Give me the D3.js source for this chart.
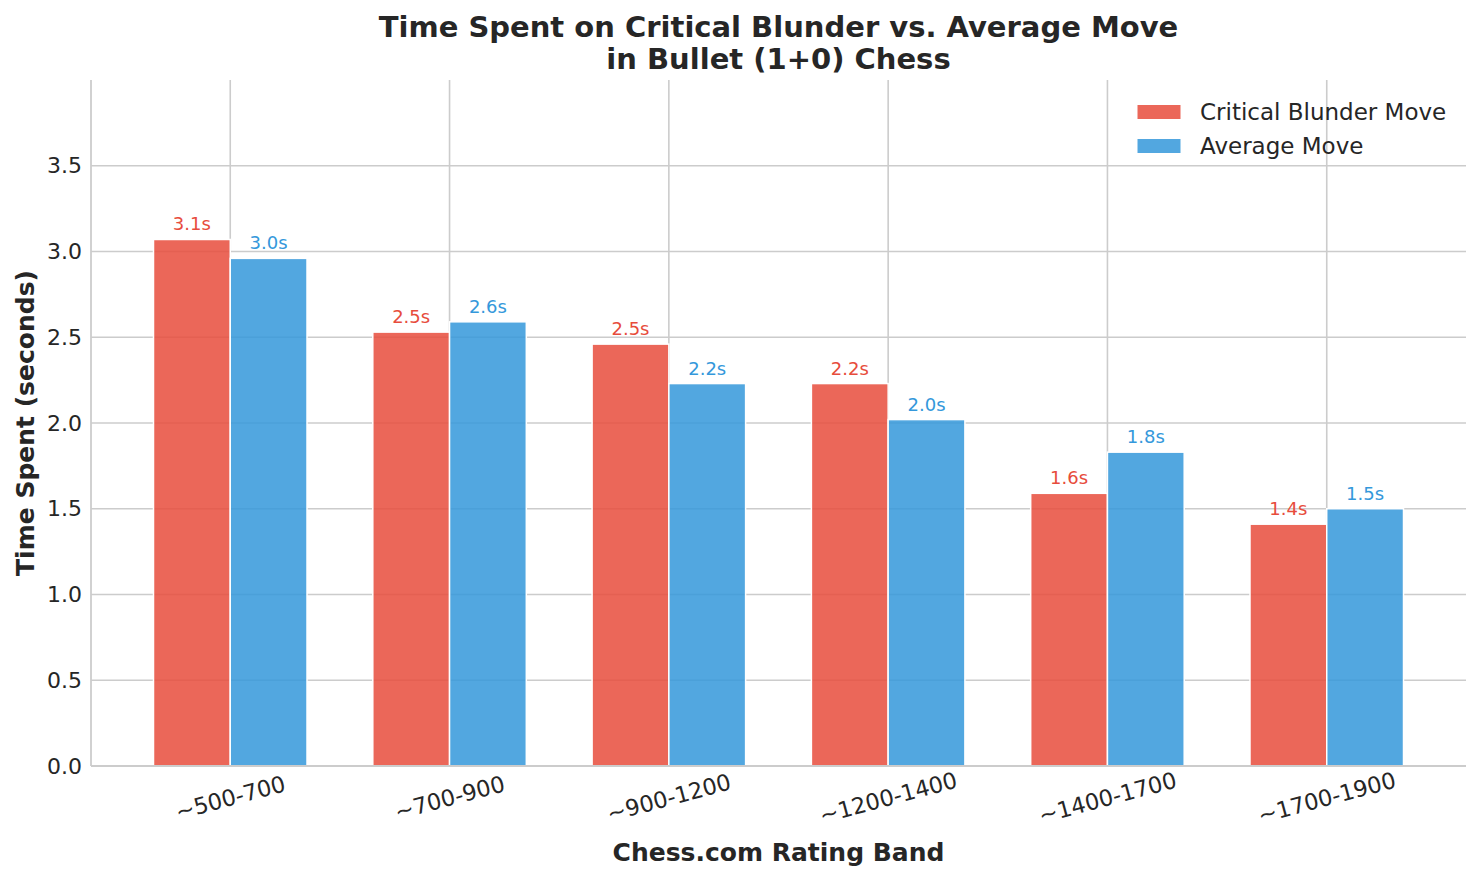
<!DOCTYPE html>
<html>
<head>
<meta charset="utf-8">
<script src="https://cdn.jsdelivr.net/npm/d3@7"></script>
<style>
  html, body { margin: 0; padding: 0; background: #ffffff; }
  svg { display: block; font-family: "DejaVu Sans", sans-serif; }
</style>
</head>
<body>
<div id="chart"></div>
<script>
(function() {

  'use strict'

  // Chart data.
  var bands        = ['~500-700', '~700-900', '~900-1200', '~1200-1400', '~1400-1700', '~1700-1900'];
  var blunderTimes = [3.07, 2.53, 2.46, 2.23, 1.59, 1.41];
  var averageTimes = [2.96, 2.59, 2.23, 2.02, 1.83, 1.50];
  var seriesNames  = ['Critical Blunder Move', 'Average Move'];
  var yTicks       = [0, 0.5, 1.0, 1.5, 2.0, 2.5, 3.0, 3.5];

  var width  = 1480;
  var height = 880;

  // Plot area, matplotlib style.
  var plot = { left: 91, right: 1466, top: 80, bottom: 766 };

  var colors    = ['#e74c3c', '#3498db'];
  var barWidth  = 0.35;   // in category units
  var gridColor = '#cccccc';
  var textColor = '#262626';

  var svg = d3.select('#chart')
              .append('svg')
              .attr('width', width)
              .attr('height', height);

  // Category positions are plain numbers, like matplotlib's bar positions.
  var x = d3.scaleLinear()
            .domain([-barWidth - 0.285, bands.length - 1 + barWidth + 0.285])
            .range([plot.left, plot.right]);

  var y = d3.scaleLinear()
            .domain([0, 4.0])
            .range([plot.bottom, plot.top]);

  // Grid lines first so the bars sit on top.
  var grid = svg.append('g').attr('class', 'grid');

  grid.selectAll('line.h')
      .data(yTicks.slice(1))
      .enter().append('line')
      .attr('class', 'h')
      .attr('x1', plot.left).attr('x2', plot.right)
      .attr('y1', function(d) { return y(d); })
      .attr('y2', function(d) { return y(d); })
      .style('stroke', gridColor)
      .style('stroke-width', 1.6);

  grid.selectAll('line.v')
      .data(d3.range(bands.length))
      .enter().append('line')
      .attr('class', 'v')
      .attr('x1', function(d) { return x(d); })
      .attr('x2', function(d) { return x(d); })
      .attr('y1', plot.top).attr('y2', plot.bottom)
      .style('stroke', gridColor)
      .style('stroke-width', 1.6);

  // Bars, one group per series.
  var series = [blunderTimes, averageTimes];

  series.forEach(function(values, s) {
    var offset = (s === 0 ? -barWidth / 2 : barWidth / 2);
    var g = svg.append('g').attr('class', 'series-' + s);

    g.selectAll('rect')
     .data(values)
     .enter().append('rect')
     .attr('x', function(d, i) { return x(i + offset - barWidth / 2); })
     .attr('width', function() { return x(barWidth) - x(0); })
     .attr('y', function(d) { return y(d); })
     .attr('height', function(d) { return y(0) - y(d); })
     .style('fill', colors[s])
     .style('fill-opacity', 0.85)
     .style('stroke', '#ffffff')
     .style('stroke-width', 1.5);

    // Value labels above each bar.
    g.selectAll('text')
     .data(values)
     .enter().append('text')
     .attr('x', function(d, i) { return x(i + offset); })
     .attr('y', function(d) { return y(d) - 9; })
     .attr('text-anchor', 'middle')
     .style('font-size', '18px')
     .style('fill', colors[s])
     .text(function(d) { return d.toFixed(1) + 's'; });
  });

  // Spines: only left and bottom.
  svg.append('line')
     .attr('x1', plot.left).attr('x2', plot.left)
     .attr('y1', plot.top).attr('y2', plot.bottom)
     .style('stroke', gridColor).style('stroke-width', 1.8);
  svg.append('line')
     .attr('x1', plot.left).attr('x2', plot.right)
     .attr('y1', plot.bottom).attr('y2', plot.bottom)
     .style('stroke', gridColor).style('stroke-width', 1.8);

  // Y axis through d3.axisLeft, with the domain path and ticks hidden.
  var yAxis = svg.append('g')
                 .attr('transform', 'translate(' + plot.left + ',0)')
                 .call(d3.axisLeft(y)
                         .tickValues(yTicks)
                         .tickSize(0)
                         .tickPadding(9)
                         .tickFormat(d3.format('.1f')));
  yAxis.select('.domain').remove();
  yAxis.selectAll('text')
       .style('font-family', '"DejaVu Sans", sans-serif')
       .style('font-size', '22px')
       .style('fill', textColor);

  // X axis, labels rotated 15 degrees and centred on the tick.
  var xAxis = svg.append('g')
                 .attr('transform', 'translate(0,' + plot.bottom + ')')
                 .call(d3.axisBottom(x)
                         .tickValues(d3.range(bands.length))
                         .tickSize(0)
                         .tickFormat(function(i) { return bands[i]; }));
  xAxis.select('.domain').remove();
  xAxis.selectAll('text')
       .attr('y', 0)
       .attr('dy', 0)
       .attr('transform', 'translate(0,33) rotate(-15)')
       .attr('dominant-baseline', 'middle')
       .style('text-anchor', 'middle')
       .style('font-family', '"DejaVu Sans", sans-serif')
       .style('font-size', '22.5px')
       .style('fill', textColor);

  // Axis titles.
  svg.append('text')
     .attr('x', (plot.left + plot.right) / 2)
     .attr('y', 861)
     .attr('text-anchor', 'middle')
     .style('font-size', '25px')
     .style('font-weight', 'bold')
     .style('fill', textColor)
     .text('Chess.com Rating Band');

  svg.append('text')
     .attr('transform', 'translate(34,' + ((plot.top + plot.bottom) / 2) + ') rotate(-90)')
     .attr('text-anchor', 'middle')
     .style('font-size', '25px')
     .style('font-weight', 'bold')
     .style('fill', textColor)
     .text('Time Spent (seconds)');

  // Two-line title.
  var title = svg.append('text')
                 .attr('text-anchor', 'middle')
                 .style('font-size', '29px')
                 .style('font-weight', 'bold')
                 .style('fill', textColor);
  title.append('tspan')
       .attr('x', (plot.left + plot.right) / 2).attr('y', 37)
       .text('Time Spent on Critical Blunder vs. Average Move');
  title.append('tspan')
       .attr('x', (plot.left + plot.right) / 2).attr('y', 69)
       .text('in Bullet (1+0) Chess');

  // Legend, top right.
  var legend = svg.append('g').attr('class', 'legend');
  seriesNames.forEach(function(name, s) {
    var cy = 112 + s * 34;
    legend.append('rect')
          .attr('x', 1137).attr('y', cy - 7.5)
          .attr('width', 44).attr('height', 15)
          .style('fill', colors[s])
          .style('fill-opacity', 0.85)
          .style('stroke', '#ffffff')
          .style('stroke-width', 1);
    legend.append('text')
          .attr('x', 1200).attr('y', cy)
          .attr('dominant-baseline', 'central')
          .style('font-size', '23px')
          .style('fill', textColor)
          .text(name);
  });

})();
</script>
</body>
</html>
